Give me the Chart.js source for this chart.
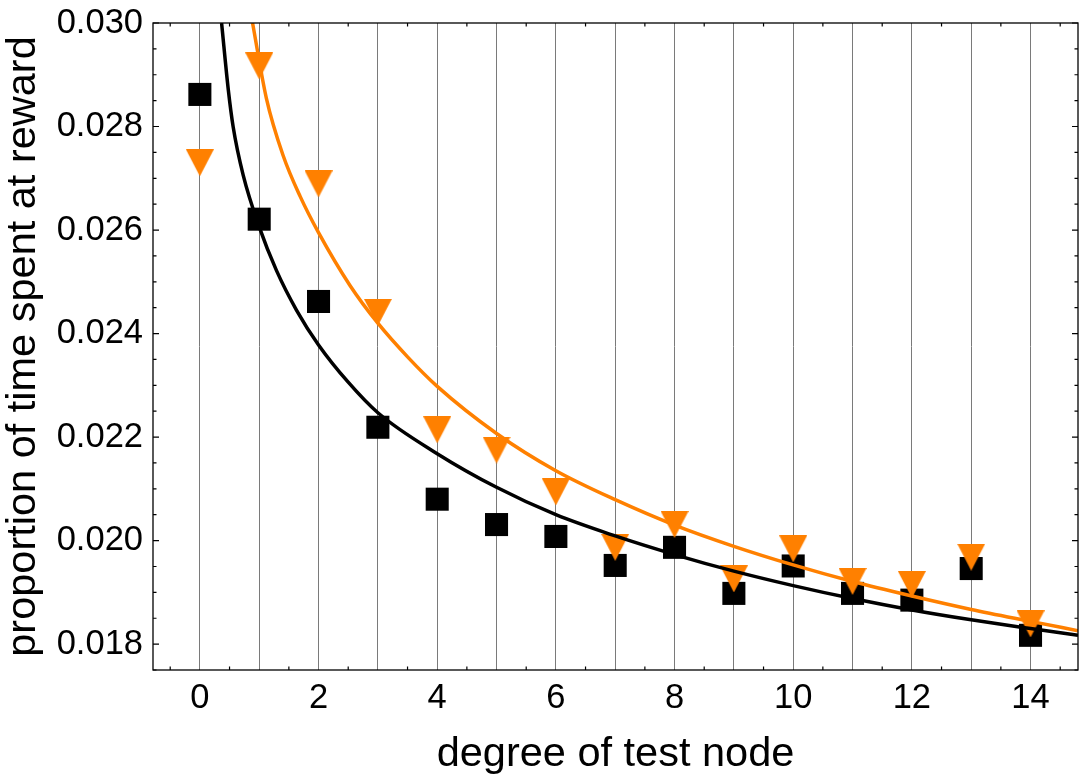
<!DOCTYPE html>
<html><head><meta charset="utf-8">
<script src="https://cdn.jsdelivr.net/npm/chart.js@4"></script>
<style>html,body{margin:0;padding:0;background:#fff;} #wrap{width:1089px;height:782px;}</style>
</head><body><div id="wrap"><canvas id="c" width="1089" height="782"></canvas></div>
<script>
// ---- data ----
const xDegrees = [0,1,2,3,4,5,6,7,8,9,10,11,12,13,14];
const blackSquares = [0.02862,0.02621,0.02462,0.02219,0.02080,0.02031,0.02008,0.01952,0.01987,0.01898,0.01951,0.01898,0.01885,0.01946,0.01817];
const orangeTriangles = [0.02730,0.02917,0.02689,0.02441,0.02214,0.02175,0.02094,0.01987,0.02031,0.01926,0.01984,0.01921,0.01915,0.01968,0.01839];

const blackFitX = [0.366,0.48,0.56,0.73,1.0,1.29,1.63,2.0,2.5,3,4,5,6,7,8,9,10,11,12,13,14,14.8];
const blackFitY = [0.0300,0.02870,0.02800,0.02706,0.02606,0.02522,0.02445,0.02378,0.02306,0.02247,0.02168,0.02103,0.02050,0.02009,0.01973,0.01941,0.01913,0.01888,0.01866,0.01847,0.01830,0.01817];
const orangeFitX = [0.888,1.12,1.40,1.69,2.0,2.53,3.0,3.5,4,5,6,7,8,9,10,11,12,13,14,14.8];
const orangeFitY = [0.0300,0.02855,0.02745,0.02665,0.02595,0.02493,0.02420,0.02355,0.02298,0.02207,0.02135,0.02079,0.02030,0.01989,0.01953,0.01921,0.01893,0.01867,0.01844,0.01826];

const xTickLabels = ['0','2','4','6','8','10','12','14'];
const yTickLabels = ['0.018','0.020','0.022','0.024','0.026','0.028','0.030'];
const xTitle = 'degree of test node';
const yTitle = 'proportion of time spent at reward';

// ---- styling ----
const FONT = '"Liberation Sans", Arial, sans-serif';
const ORANGE = '#FF8000';

function triangleMarker(){
  const c = document.createElement('canvas');
  c.width = 28; c.height = 27;
  const g = c.getContext('2d');
  g.fillStyle = ORANGE;
  g.beginPath(); g.moveTo(0,0); g.lineTo(28,0); g.lineTo(14,27); g.closePath(); g.fill();
  return c;
}

const framePlugin = {
  id: 'frame',
  afterDraw(chart){
    const {ctx, chartArea, scales} = chart;
    const {left, right, top, bottom} = chartArea;
    const xs = scales.x, ys = scales.y;
    ctx.save();
    ctx.strokeStyle = '#000';
    ctx.lineWidth = 1.2;
    ctx.beginPath();
    for (let k = Math.ceil(xs.min*2); k <= Math.floor(xs.max*2); k++) {
      if (k % 2 === 0) continue;
      const px = xs.getPixelForValue(k/2);
      ctx.moveTo(px, bottom); ctx.lineTo(px, bottom-3.5);
      ctx.moveTo(px, top); ctx.lineTo(px, top+3.5);
    }
    for (let k = Math.ceil(ys.min/0.0005 - 1e-6); k <= Math.floor(ys.max/0.0005 + 1e-6); k++) {
      const py = ys.getPixelForValue(k*0.0005);
      const len = (k % 4 === 0) ? 6 : 3.5;
      ctx.moveTo(left, py); ctx.lineTo(left+len, py);
      ctx.moveTo(right, py); ctx.lineTo(right-len, py);
    }
    ctx.stroke();
    ctx.lineWidth = 1.3;
    ctx.strokeRect(left, top, right-left, bottom-top);
    ctx.restore();
  }
};

new Chart(document.getElementById('c'), {
  type: 'scatter',
  data: { datasets: [
    { type:'line', data: orangeFitX.map((x,i)=>({x, y: orangeFitY[i]})), borderColor: ORANGE, borderWidth: 3.5,
      pointRadius: 0, fill: false, cubicInterpolationMode: 'monotone', order: 0 },
    { type:'line', data: blackFitX.map((x,i)=>({x, y: blackFitY[i]})), borderColor: '#000', borderWidth: 3.5,
      pointRadius: 0, fill: false, cubicInterpolationMode: 'monotone', order: 1 },
    { data: xDegrees.map((x,i)=>({x, y: orangeTriangles[i]})), pointStyle: triangleMarker(), pointRadius: 14,
      backgroundColor: ORANGE, borderWidth: 0, order: 2 },
    { data: xDegrees.map((x,i)=>({x, y: blackSquares[i]})), pointStyle: 'rect', pointRadius: 16.3,
      backgroundColor: '#000', borderColor: '#000', borderWidth: 0, order: 3 }
  ]},
  options: {
    responsive: false, animation: false, devicePixelRatio: 1,
    layout: { autoPadding: false, padding: { left: 0, right: 11, top: 23, bottom: 0 } },
    plugins: { legend: { display: false }, tooltip: { enabled: false } },
    scales: {
      x: {
        type: 'linear', min: -0.79, max: 14.8,
        afterBuildTicks: s => { s.ticks = xDegrees.map(v => ({ value: v })); },
        afterFit: s => { s.height = 112; s.paddingLeft = 0; s.paddingRight = 0; },
        grid: { color: '#7a7a7a', lineWidth: 1, drawTicks: false },
        border: { display: false },
        ticks: { padding: 8, color: '#000', autoSkip: false, maxRotation: 0,
          font: { family: FONT, size: 34.5 },
          callback: v => xTickLabels.includes(String(v)) ? String(v) : '' },
        title: { display: true, text: xTitle, color: '#000',
          font: { family: FONT, size: 41.5 }, padding: { top: 0, bottom: 3 } }
      },
      y: {
        type: 'linear', min: 0.0175, max: 0.030,
        afterBuildTicks: s => { s.ticks = yTickLabels.map(t => ({ value: parseFloat(t) })); },
        afterFit: s => { s.width = 153; s.paddingTop = 0; s.paddingBottom = 0; },
        grid: { display: false, drawTicks: false },
        border: { display: false },
        ticks: { padding: 10, color: '#000', autoSkip: false,
          font: { family: FONT, size: 34.5 },
          callback: v => yTickLabels.find(t => Math.abs(parseFloat(t) - v) < 1e-7) || '' },
        title: { display: true, text: yTitle, color: '#000',
          font: { family: FONT, size: 41.5, lineHeight: 1.12 }, padding: 0 }
      }
    }
  },
  plugins: [framePlugin]
});
</script>
</body></html>
